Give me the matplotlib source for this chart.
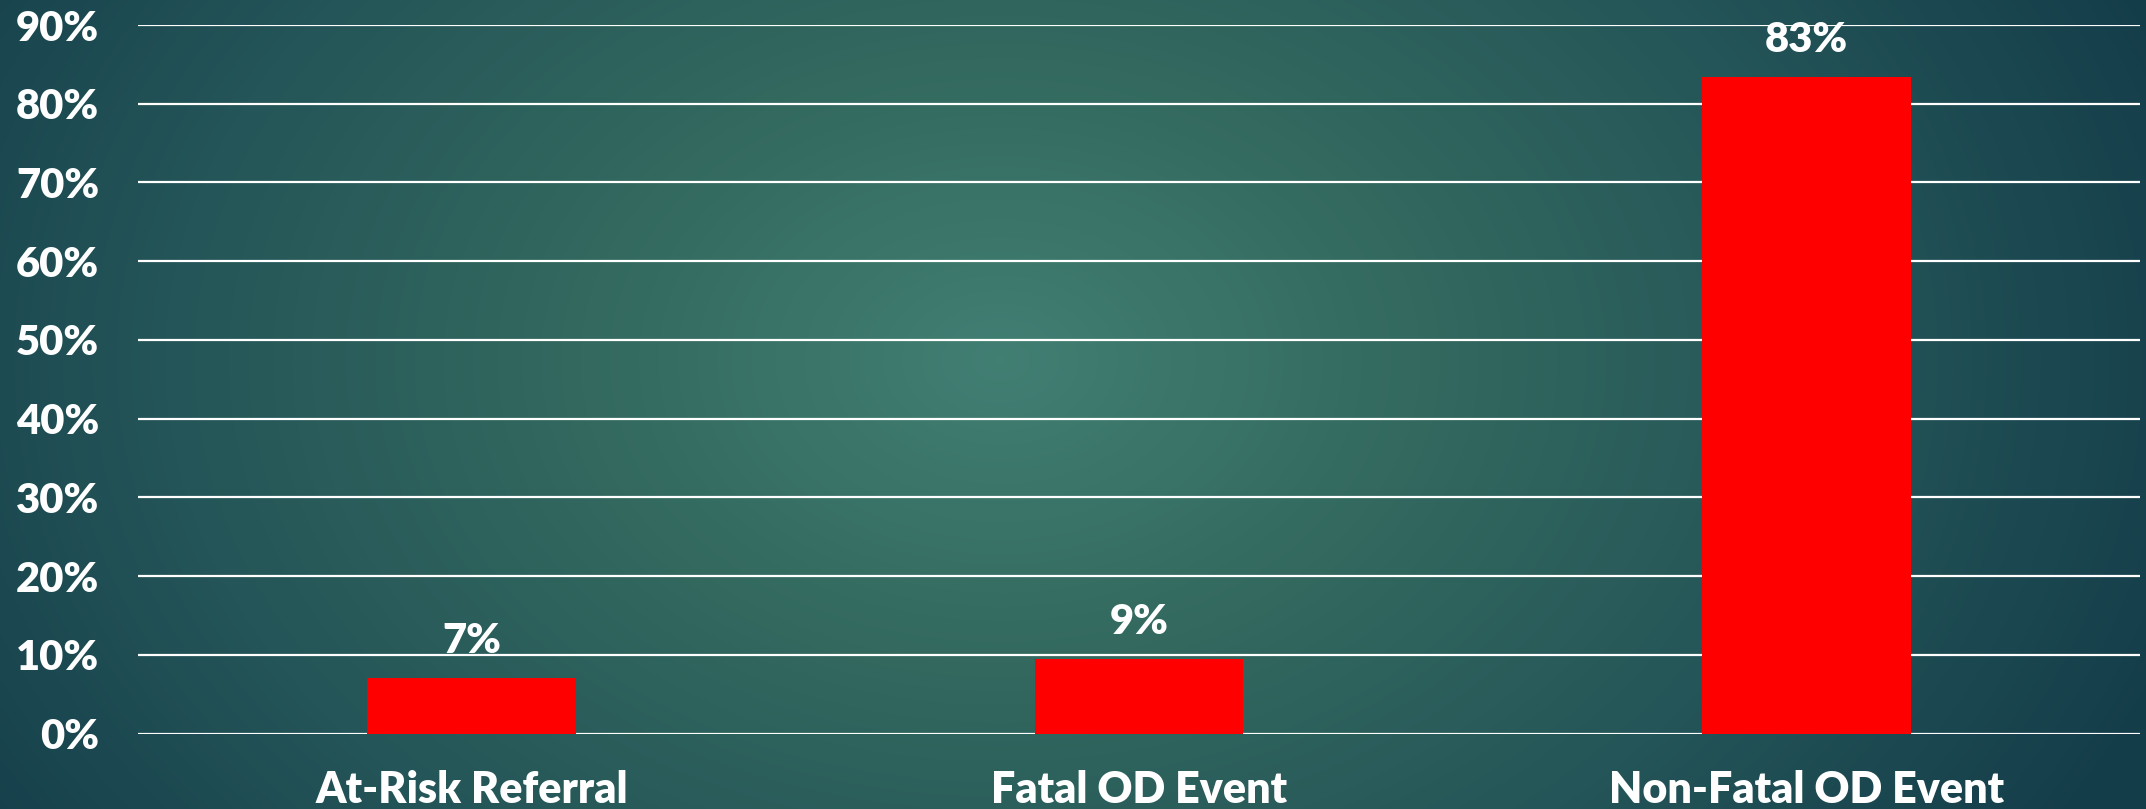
import numpy as np
import matplotlib
matplotlib.use("Agg")
import matplotlib.pyplot as plt
from matplotlib.colors import LinearSegmentedColormap

categories = ["At-Risk Referral", "Fatal OD Event", "Non-Fatal OD Event"]
values = [7.1, 9.5, 83.4]
labels = ["7%", "9%", "83%"]
yticks = [0, 10, 20, 30, 40, 50, 60, 70, 80, 90]

W, H = 2146, 809
fig = plt.figure(figsize=(W / 100, H / 100), dpi=100)

# background radial gradient
bg = fig.add_axes([0, 0, 1, 1], zorder=-10)
yy, xx = np.mgrid[0:H, 0:W]
cx, cy = 1000, 360
d = np.sqrt(((xx - cx) / 1250.0) ** 2 + ((yy - cy) / 900.0) ** 2)
d = np.clip(d, 0, 1)
cmap = LinearSegmentedColormap.from_list(
    "bg", ["#427f73", "#33695f", "#245558", "#143d4a"])
bg.imshow(d, cmap=cmap, aspect="auto", extent=[0, W, H, 0], vmin=0, vmax=1)
bg.axis("off")

ax = fig.add_axes([138 / W, 75.5 / H, 2002 / W, 708.5 / H])
ax.patch.set_alpha(0)
x = np.arange(len(categories))
ax.bar(x, values, width=0.313, color="#ff0000", zorder=3)
ax.set_xlim(-0.5, len(categories) - 0.5)
ax.set_ylim(0, 90)
ax.set_yticks(yticks)
ax.set_yticklabels([f"{t}%" for t in yticks])
ax.set_xticks(x)
ax.set_xticklabels(categories)
ax.grid(axis="y", color="white", linewidth=1.6, zorder=1)
ax.set_axisbelow(True)
for s in ax.spines.values():
    s.set_visible(False)
ax.tick_params(axis="both", length=0, colors="white")
ax.tick_params(axis="y", pad=28, labelsize=30)
ax.tick_params(axis="x", pad=26, labelsize=31)
for lab in ax.get_yticklabels() + ax.get_xticklabels():
    lab.set_fontfamily("Lato")
    lab.set_fontweight("heavy")
for xi, v, l in zip(x, values, labels):
    ax.annotate(l, (xi, v), xytext=(0, 13), textcoords="offset points",
                ha="center", va="bottom", color="white", fontsize=30,
                fontfamily="Lato", fontweight="heavy", clip_on=False)

fig.savefig("out.png", dpi=100)
